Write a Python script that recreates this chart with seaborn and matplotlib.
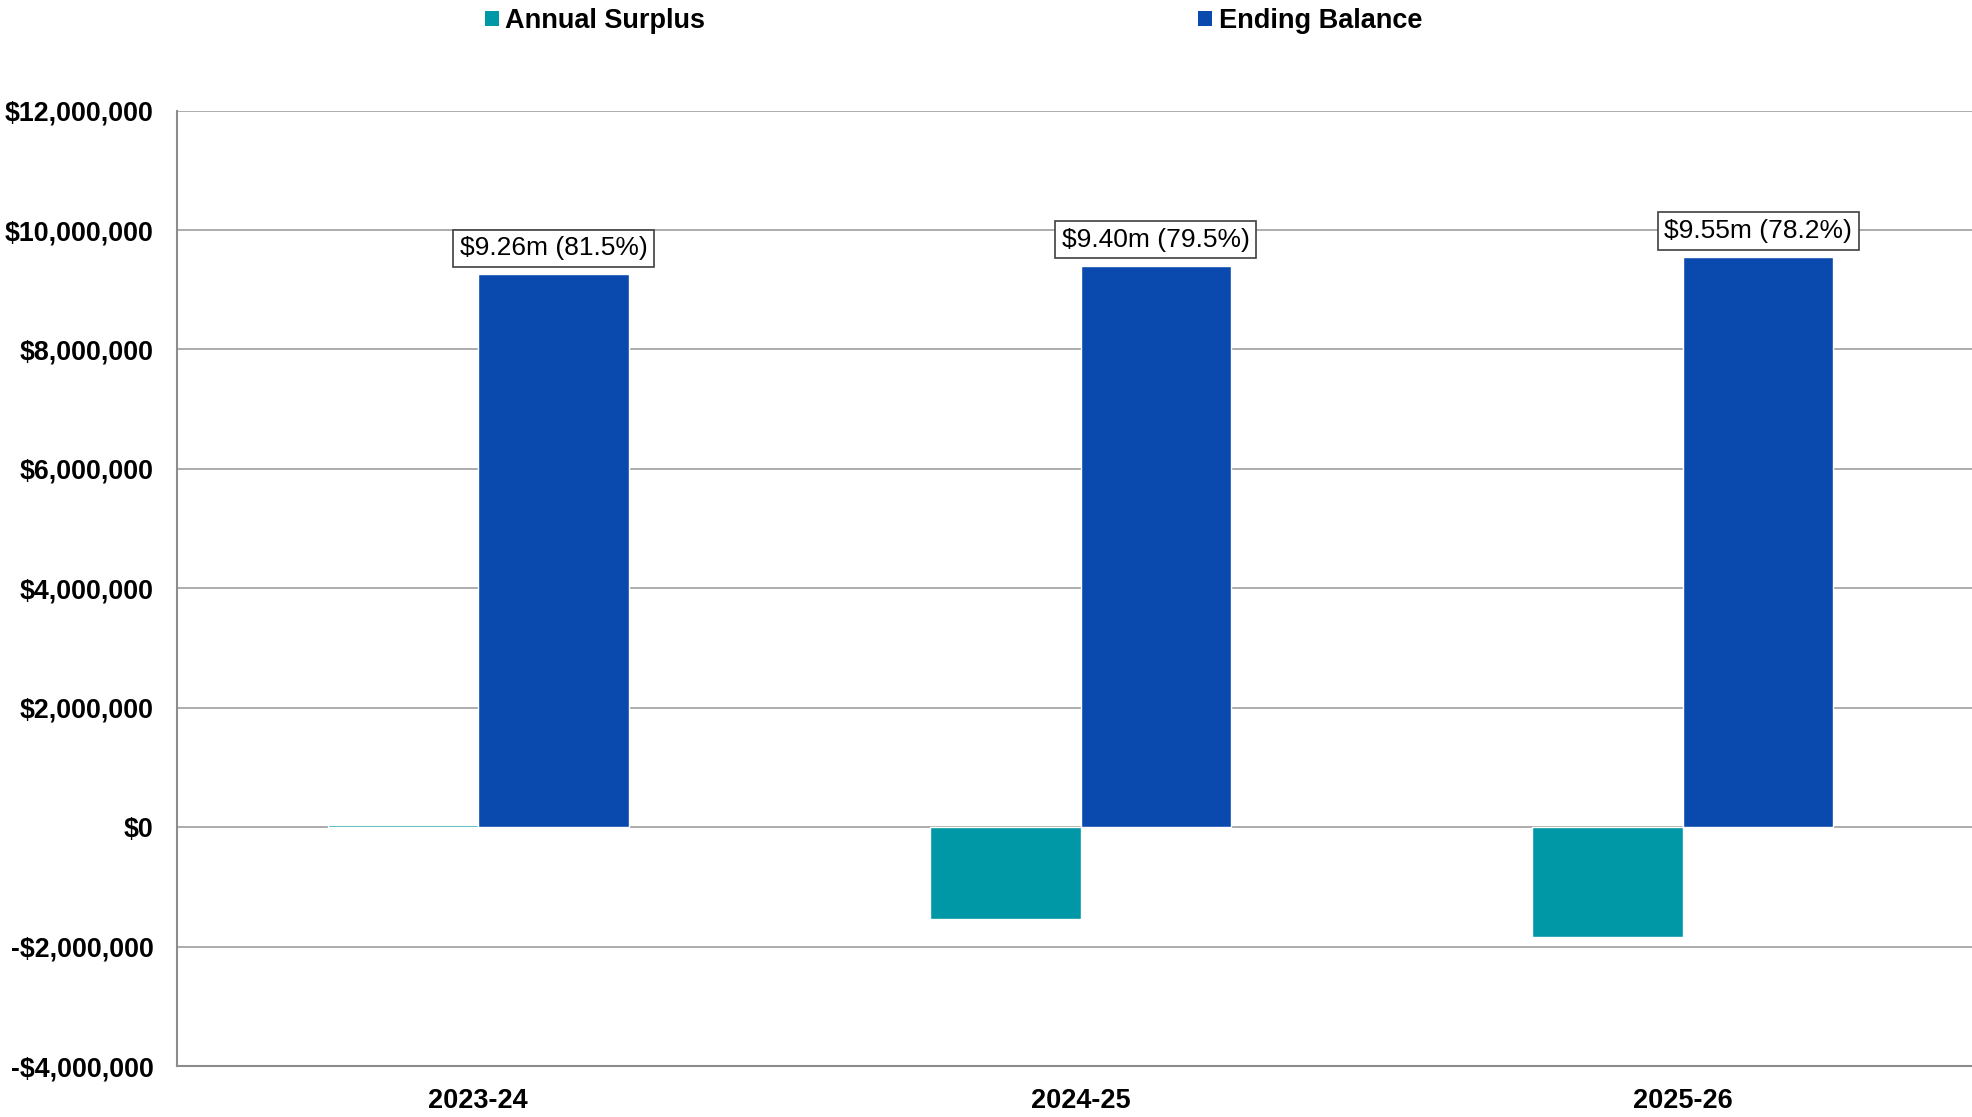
import numpy as np
import pandas as pd
import matplotlib
matplotlib.use("Agg")
import matplotlib.pyplot as plt
from matplotlib.patches import Patch
from matplotlib.ticker import FuncFormatter
import seaborn as sns

# ---------------- data ----------------
years = ["2023-24", "2024-25", "2025-26"]
series = ["Annual Surplus", "Ending Balance"]
annual_surplus = [40000, -1530000, -1845000]
ending_balance = [9260000, 9400000, 9550000]
balance_labels = ["$9.26m (81.5%)", "$9.40m (79.5%)", "$9.55m (78.2%)"]
colors = ["#0097A7", "#0A4AAF"]

df = pd.DataFrame({
    "Year": years * 2,
    "Series": [series[0]] * 3 + [series[1]] * 3,
    "Amount": annual_surplus + ending_balance,
})

# ---------------- plot ----------------
sns.set_theme(style="white")
plt.rcParams["font.family"] = ["Liberation Sans", "DejaVu Sans"]
plt.rcParams["text.color"] = "black"

fig = plt.figure(figsize=(19.72, 11.17), dpi=100)
ax = fig.add_axes([0.0898, 0.0455, 0.9163, 0.8555])

sns.barplot(data=df, x="Year", y="Amount", hue="Series", hue_order=series,
            order=years, palette=colors, width=0.5, saturation=1,
            legend=False, ax=ax)

ax.set_xlim(-0.5, 2.5)
ax.set_ylim(-4e6, 12e6)
ax.set_yticks(np.arange(-4e6, 12e6 + 1, 2e6))
ax.yaxis.set_major_formatter(FuncFormatter(
    lambda v, p: f"-${abs(v):,.0f}" if v < 0 else f"${v:,.0f}"))
ax.set_xlabel("")
ax.set_ylabel("")

ax.yaxis.grid(True, color="#A6A6A6", linewidth=1.3)
ax.set_axisbelow(True)
for side in ["top", "right"]:
    ax.spines[side].set_visible(False)
for side in ["left", "bottom"]:
    ax.spines[side].set_color("#8C8C8C")
    ax.spines[side].set_linewidth(1.5)

ax.tick_params(axis="y", length=0, pad=17, labelsize=19.3)
ax.tick_params(axis="x", length=0, pad=16, labelsize=19.5)
for lbl in ax.get_xticklabels() + ax.get_yticklabels():
    lbl.set_fontweight("bold")
    lbl.set_color("black")

# data labels on ending balance bars
for bar, text in zip(ax.containers[1], balance_labels):
    ax.annotate(text, (bar.get_x() + bar.get_width() / 2, bar.get_height()),
                xytext=(0, 14), textcoords="offset pixels",
                ha="center", va="bottom", fontsize=19, color="black",
                bbox=dict(boxstyle="square,pad=0.25", facecolor="white",
                          edgecolor="#404040", linewidth=1.2))

# legend
handles = [Patch(facecolor=c, edgecolor="none") for c in colors]
leg = fig.legend(handles, series, loc="center left",
                 bbox_to_anchor=(0.246, 0.981), ncol=2, frameon=False,
                 handlelength=0.5, handleheight=0.5, handletextpad=0.25,
                 columnspacing=18.2, borderpad=0, borderaxespad=0,
                 prop={"size": 19.5, "weight": "bold"})
for t in leg.get_texts():
    t.set_color("black")

fig.savefig("out.png", dpi=100)
